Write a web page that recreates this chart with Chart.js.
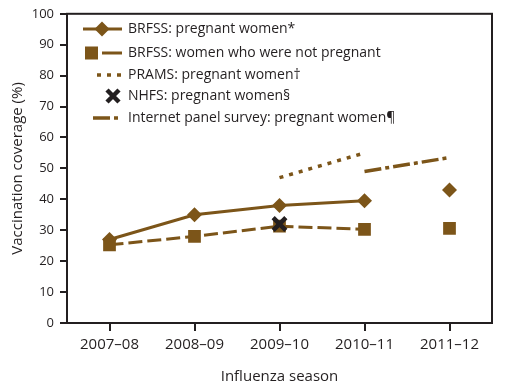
<!DOCTYPE html>
<html>
<head>
<meta charset="utf-8">
<script src="https://cdn.jsdelivr.net/npm/chart.js"></script>
<style>
  body { margin: 0; background: #fff; }
  #wrap { width: 506px; height: 388px; }
</style>
</head>
<body>
<div id="wrap"><canvas id="canvas" width="506" height="388"></canvas></div>
<script>
var seasons = ["2007\u201308", "2008\u201309", "2009\u201310", "2010\u201311", "2011\u201312"];
var brfssPregnant = [27, 35, 38, 39.5, 43];
var brfssNotPregnant = [25.3, 28, 31.3, 30.3, 30.6];
var pramsPregnant = [null, null, 47, 55, null];
var nhfsPregnant = [null, null, 32, null, null];
var panelPregnant = [null, null, null, 49, 53.5];
var legendLabels = [
    "BRFSS: pregnant women*",
    "BRFSS: women who were not pregnant",
    "PRAMS: pregnant women\u2020",
    "NHFS: pregnant women\u00a7",
    "Internet panel survey: pregnant women\u00b6"
];

var brown = "#7c5519";
var ink = "#231f20";
var font = "'Open Sans', sans-serif";

// no line into the 2011-12 point for BRFSS
function skipLast(ctx) {
    return ctx.p1DataIndex === 4 ? "rgba(0,0,0,0)" : undefined;
}

var frame = {
    id: "frame",
    afterDraw: function (chart) {
        var c = chart.ctx, a = chart.chartArea;
        c.save();
        c.strokeStyle = ink;
        c.lineWidth = 2;
        c.strokeRect(a.left, a.top, a.right - a.left, a.bottom - a.top);
        c.restore();
    }
};

var legendBox = {
    id: "legendBox",
    afterDraw: function (chart) {
        var c = chart.ctx;
        var rows = [29, 53, 75, 96, 118];
        c.save();
        c.strokeStyle = brown;
        c.fillStyle = brown;
        c.lineWidth = 3;
        // row 1: solid + diamond
        c.beginPath(); c.moveTo(83, rows[0]); c.lineTo(122, rows[0]); c.stroke();
        c.beginPath();
        c.moveTo(102, rows[0] - 7.5); c.lineTo(109.5, rows[0]); c.lineTo(102, rows[0] + 7.5); c.lineTo(94.5, rows[0]);
        c.closePath(); c.fill();
        // row 2: square + dash
        c.fillRect(85, rows[1] - 6.5, 13, 13);
        c.beginPath(); c.moveTo(102, rows[1]); c.lineTo(122, rows[1]); c.stroke();
        // row 3: dotted
        c.lineWidth = 3.5;
        c.setLineDash([4, 6]);
        c.beginPath(); c.moveTo(97, rows[2]); c.lineTo(122, rows[2]); c.stroke();
        // row 5: dash-dot
        c.setLineDash([17, 4, 4, 10]);
        c.beginPath(); c.moveTo(93, rows[4]); c.lineTo(119, rows[4]); c.stroke();
        c.setLineDash([]);
        // row 4: x marker
        c.strokeStyle = ink;
        c.lineWidth = 4.5;
        c.beginPath();
        c.moveTo(107, rows[3] - 6); c.lineTo(119, rows[3] + 6);
        c.moveTo(119, rows[3] - 6); c.lineTo(107, rows[3] + 6);
        c.stroke();
        // labels
        c.fillStyle = ink;
        c.font = "14px " + font;
        c.textBaseline = "middle";
        c.textAlign = "left";
        for (var i = 0; i < legendLabels.length; i++) {
            c.fillText(legendLabels[i], 128, rows[i]);
        }
        c.restore();
    }
};

var ctx = document.getElementById("canvas").getContext("2d");
new Chart(ctx, {
    type: "line",
    data: {
        labels: seasons,
        datasets: [
            {
                label: legendLabels[0],
                data: brfssPregnant,
                borderColor: brown,
                backgroundColor: brown,
                borderWidth: 3,
                pointStyle: "rectRot",
                pointRadius: 7.5,
                pointBorderWidth: 0,
                segment: { borderColor: skipLast },
                order: 2
            },
            {
                label: legendLabels[1],
                data: brfssNotPregnant,
                borderColor: brown,
                backgroundColor: brown,
                borderWidth: 3,
                borderDash: [14, 5],
                pointStyle: "rect",
                pointRadius: 9,
                pointBorderWidth: 0,
                segment: { borderColor: skipLast },
                order: 1
            },
            {
                label: legendLabels[2],
                data: pramsPregnant,
                borderColor: brown,
                borderWidth: 3.5,
                borderDash: [4, 6],
                pointRadius: 0,
                order: 3
            },
            {
                label: legendLabels[3],
                data: nhfsPregnant,
                borderColor: ink,
                backgroundColor: ink,
                showLine: false,
                pointStyle: "crossRot",
                pointRadius: 9,
                pointBorderWidth: 4.5,
                order: 0
            },
            {
                label: legendLabels[4],
                data: panelPregnant,
                borderColor: brown,
                borderWidth: 3.5,
                borderDash: [17, 4, 4, 4],
                pointRadius: 0,
                order: 3
            }
        ]
    },
    options: {
        responsive: false,
        animation: false,
        spanGaps: false,
        layout: { padding: { top: 10, right: 14, left: 0, bottom: 0 } },
        plugins: {
            legend: { display: false },
            tooltip: { enabled: false }
        },
        scales: {
            x: {
                offset: true,
                afterFit: function (s) { s.height = 65; },
                grid: { offset: false, drawOnChartArea: false, drawTicks: true, tickLength: 8, color: ink, lineWidth: 2 },
                border: { display: true, color: ink, width: 2 },
                ticks: { color: ink, padding: 5, font: { family: font, size: 15 }, maxRotation: 0 },
                title: {
                    display: true,
                    text: "Influenza season",
                    color: ink,
                    font: { family: font, size: 15 },
                    padding: { top: 0, bottom: 2 }
                }
            },
            y: {
                min: 0,
                max: 100,
                afterFit: function (s) { s.width = 67; },
                grid: { drawOnChartArea: false, drawTicks: true, tickLength: 7, color: ink, lineWidth: 2 },
                border: { display: true, color: ink, width: 2 },
                ticks: { stepSize: 10, color: ink, padding: 6, font: { family: font, size: 13 } },
                title: {
                    display: true,
                    text: "Vaccination coverage (%)",
                    color: ink,
                    font: { family: font, size: 15 },
                    padding: { top: 9, bottom: 0 }
                }
            }
        }
    },
    plugins: [frame, legendBox]
});
</script>
</body>
</html>
